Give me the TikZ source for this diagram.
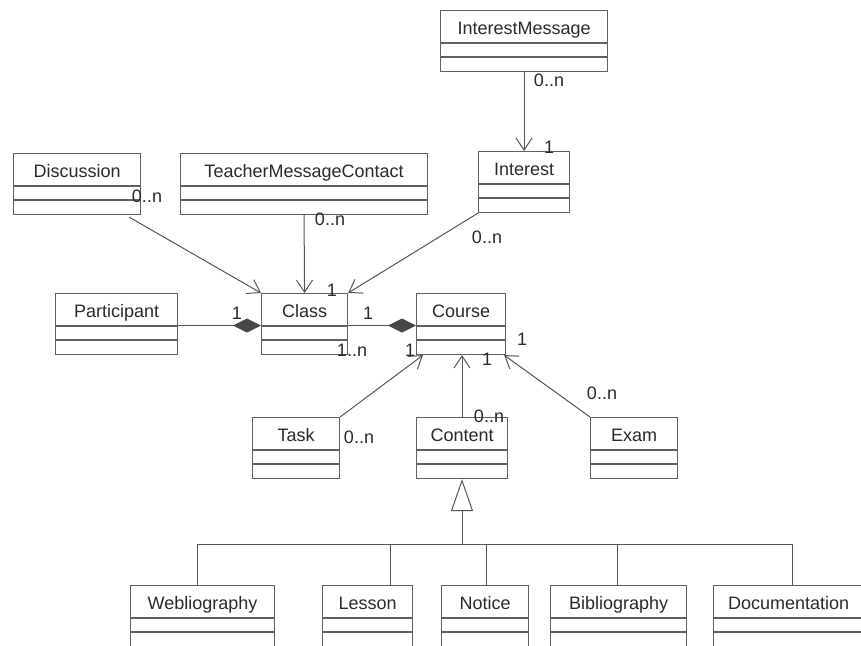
\documentclass[tikz,border=0pt]{standalone}
\usepackage{fontspec}
\setmainfont{Liberation Sans}
\usetikzlibrary{arrows.meta}

\definecolor{edgegray}{HTML}{555555}
\definecolor{boxgray}{HTML}{606060}
\definecolor{inkgray}{HTML}{2A2A2A}
\definecolor{diamondgray}{HTML}{474747}

\tikzset{
  classbox/.style={draw=boxgray, line width=1.1pt, fill=white, inner sep=0pt,
    minimum height=61pt, anchor=north west, rectangle},
  sepline/.style={draw=boxgray, line width=1.1pt},
  classname/.style={font=\fontsize{18}{20}\selectfont, text=inkgray, inner sep=0pt, anchor=base},
  mult/.style={font=\fontsize{18}{20}\selectfont, text=inkgray, inner sep=0pt,
    text height=13pt, text depth=0pt},
  assoc/.style={draw=edgegray, line width=1pt,
    -{Straight Barb[length=12pt, width=16pt, line width=1pt]}},
  compo/.style={draw=edgegray, line width=1pt,
    -{Diamond[length=28pt, width=14pt, fill=diamondgray, color=diamondgray]}},
  genline/.style={draw=edgegray, line width=1pt},
  genarrow/.style={draw=edgegray, line width=1pt,
    -{Triangle[open, length=32pt, width=22pt, fill=white]}},
}

% class box: name, left, top, width, title
\newcommand\umlbox[5]{%
  \node[classbox, minimum width=#4] (#1) at (#2,#3) {};
  \draw[sepline] ([yshift=-33pt]#1.north west) -- ([yshift=-33pt]#1.north east);
  \draw[sepline] ([yshift=-47pt]#1.north west) -- ([yshift=-47pt]#1.north east);
  \node[classname] (#1-title) at ([yshift=-24.5pt]#1.north) {#5};
}

\begin{document}
\begin{tikzpicture}[x=1pt, y=-1pt]
  \fill[white] (0,0) rectangle (861,645);
  \clip (0,0) rectangle (861,645);

  % classes
  \umlbox{imsg}{440}{10}{167}{InterestMessage}
  \umlbox{interest}{478}{151}{91}{Interest}
  \umlbox{discussion}{13}{153}{127}{Discussion}
  \umlbox{tmc}{180}{153}{247}{TeacherMessageContact}
  \umlbox{participant}{55}{293}{122}{Participant}
  \umlbox{class}{261}{293}{86}{Class}
  \umlbox{course}{416}{293}{89}{Course}
  \umlbox{task}{252}{417}{87}{Task}
  \umlbox{content}{416}{417}{91}{Content}
  \umlbox{exam}{590}{417}{87}{Exam}
  \umlbox{webliography}{130}{585}{144}{Webliography}
  \umlbox{lesson}{322}{585}{90}{Lesson}
  \umlbox{notice}{441}{585}{87}{Notice}
  \umlbox{bibliography}{550}{585}{136}{Bibliography}
  \umlbox{documentation}{713}{585}{150}{Documentation}

  % associations
  \draw[assoc] (imsg.south) -- (interest.north);
  \draw[assoc] ([xshift=-12pt,yshift=-2pt]discussion.south east) -- (class.north west);
  \draw[assoc] (tmc.south) -- (class.north);
  \draw[assoc] (interest.south west) -- (class.north east);
  \draw[assoc] (task.north east) -- ([xshift=7pt]course.south west);
  \draw[assoc] (content.north) -- (content.north |- course.south);
  \draw[assoc] (exam.north west) -- ([xshift=-2pt]course.south east);

  % compositions
  \draw[compo] ([yshift=-1.5pt]participant.east) -- ([yshift=-1.5pt]class.west);
  \draw[compo] ([yshift=-1.5pt]class.east) -- ([yshift=-1.5pt]course.west);

  % generalization of Content
  \coordinate (bus) at (462,544);
  \draw[genarrow] (bus) -- (bus |- content.south);
  \draw[genline] ([xshift=-5pt]webliography.north) |- (bus);
  \draw[genline] ([xshift=23pt]lesson.north) |- (bus);
  \draw[genline] ([xshift=1.5pt]notice.north) |- (bus);
  \draw[genline] ([xshift=-1pt]bibliography.north) |- (bus);
  \draw[genline] ([xshift=4pt]documentation.north) |- (bus);

  % multiplicities
  \node[mult] (m-imsg) at (549,80) {0..n};
  \node[mult] (m-interest) at (549,147) {1};
  \node[mult] (m-disc) at (147,196) {0..n};
  \node[mult] (m-tmc) at (330,219) {0..n};
  \node[mult] (m-classtop) at (332,290) {1};
  \node[mult] (m-intclass) at (487,237) {0..n};
  \node[mult] (m-part) at (237,313) {1};
  \node[mult] (m-classcourse) at (368,313) {1};
  \node[mult] (m-classn) at (352,350) {1..n};
  \node[mult] (m-coursetask) at (410,350) {1};
  \node[mult] (m-courseexam) at (522,339) {1};
  \node[mult] (m-coursecontent) at (487,359) {1};
  \node[mult] (m-exam) at (602,393) {0..n};
  \node[mult] (m-task) at (359,437) {0..n};
  \node[mult] (m-content) at (489,416) {0..n};
\end{tikzpicture}
\end{document}
